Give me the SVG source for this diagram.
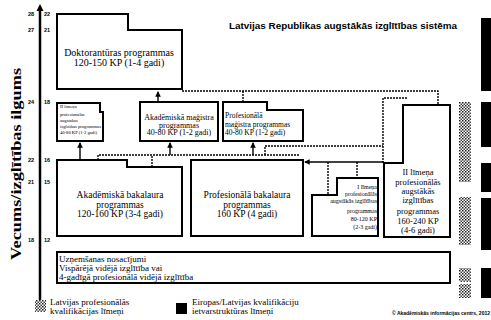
<svg xmlns="http://www.w3.org/2000/svg" width="491" height="320" viewBox="0 0 491 320">
  <style>
    .box { fill: #fff; stroke: #000; stroke-width: 2; }
    .link { fill: none; stroke: #000; stroke-width: 1.4; stroke-dasharray: 2 1; }
    .arrow { fill: none; stroke: #000; stroke-width: 1.4; marker-end: url(#head); }
    .t { font-family: "Liberation Serif", "Times New Roman", serif; fill: #000; }
    .c { text-anchor: middle; }
    .r { text-anchor: end; }
    .ax { font-family: "Liberation Sans", Arial, sans-serif; font-weight: bold; font-size: 5.5px; text-anchor: middle; }
  </style>
  <defs>
    <marker id="head" viewBox="0 0 6 6" refX="5" refY="3" markerWidth="4" markerHeight="4" orient="auto">
      <path d="M0,0 L6,3 L0,6 Z" fill="#000"/>
    </marker>
    <pattern id="hatch" width="3" height="3" patternUnits="userSpaceOnUse">
      <rect width="3" height="3" fill="#fff"/>
      <rect width="1.5" height="1.5" fill="#222"/>
      <rect x="1.5" y="1.5" width="1.5" height="1.5" fill="#444"/>
    </pattern>
  </defs>
  <rect width="491" height="320" fill="#fff"/>

  <!-- title -->
  <text x="229" y="29" font-family="Liberation Sans, Arial, sans-serif" font-weight="bold" font-size="9" textLength="228" lengthAdjust="spacingAndGlyphs">Latvijas Republikas augstākās izglītības sistēma</text>

  <!-- vertical axis: age / years of study -->
  <g id="axis">
    <line x1="40" y1="9" x2="40" y2="302" stroke="#000" stroke-width="2.5"/>
    <path d="M36.5,11 L40,4 L43.5,11 Z" fill="#000"/>
    <text class="ax" x="31" y="16">28</text><text class="ax" x="47" y="16">22</text>
    <text class="ax" x="31" y="32">27</text><text class="ax" x="47" y="32">21</text>
    <text class="ax" x="31" y="104">24</text><text class="ax" x="47" y="104">18</text>
    <text class="ax" x="31" y="162">22</text><text class="ax" x="47" y="162">16</text>
    <text class="ax" x="31" y="184">21</text><text class="ax" x="47" y="184">15</text>
    <text class="ax" x="31" y="242">18</text><text class="ax" x="47" y="242">12</text>
    <text class="t" transform="translate(21,164) rotate(-90)" text-anchor="middle" font-size="14" font-weight="bold" textLength="192" lengthAdjust="spacingAndGlyphs">Vecums/izglītības ilgums</text>
  </g>

  <!-- connectors -->
  <g id="connectors">
    <path class="link" d="M182,91 H438 V105"/>
    <path class="link" d="M243,91 V102"/>
    <path class="arrow" d="M158,102 V92"/>
    <path class="arrow" d="M80,160 V143"/>
    <path class="link" d="M98,160 V155 H300"/>
    <path class="link" d="M152,167 V155"/>
    <path class="arrow" d="M170,155 V143"/>
    <path class="arrow" d="M253,155 V143"/>
    <path class="link" d="M265,155 V146 H383"/>
    <path class="link" d="M383,163 V98 H408"/>
    <path class="arrow" d="M384,162 H305"/>
    <path class="link" d="M328,162 V195"/>
    <path class="link" d="M357,162 V178"/>
  </g>

  <!-- doctoral studies -->
  <g id="doktorantura">
    <path class="box" d="M57,14 H128 V30 H182 V89 H57 Z"/>
    <text class="t c" x="119" y="56" font-size="10">Doktorantūras programmas</text>
    <text class="t c" x="119" y="66" font-size="10">120-150 KP (1-4 gadi)</text>
  </g>

  <!-- second-level professional, short -->
  <g id="prof-2-limenis-isa">
    <path class="box" d="M57,103 H100 V112 H103 V141 H57 Z"/>
    <g class="t" font-size="4.6">
      <text x="60" y="108">II līmeņa</text>
      <text x="60" y="116">profesionālās</text>
      <text x="60" y="121.5">augstākās</text>
      <text x="60" y="128">izglītības programmas</text>
      <text x="60" y="134">40-80 KP (1-2 gadi)</text>
    </g>
  </g>

  <!-- academic master -->
  <g id="akad-magistrs">
    <rect class="box" x="140" y="102" width="78" height="39"/>
    <text class="t c" x="179" y="120" font-size="8">Akadēmiskā maģistra</text>
    <text class="t c" x="179" y="127.5" font-size="8">programmas</text>
    <text class="t c" x="179" y="135" font-size="8">40-80 KP (1-2 gadi)</text>
  </g>

  <!-- professional master -->
  <g id="prof-magistrs">
    <path class="box" d="M223,102 H267 V110 H303 V141 H223 Z"/>
    <text class="t" x="225" y="118" font-size="7.5">Profesionālā</text>
    <text class="t" x="225" y="127" font-size="7.5">maģistra programmas</text>
    <text class="t" x="225" y="135" font-size="7.5">40-80 KP (1-2 gadi)</text>
  </g>

  <!-- academic bachelor -->
  <g id="akad-bakalaurs">
    <path class="box" d="M57,160 H127 V167 H182 V236 H57 Z"/>
    <text class="t c" x="120" y="198" font-size="9.5">Akadēmiskā bakalaura</text>
    <text class="t c" x="120" y="208" font-size="9.5">programmas</text>
    <text class="t c" x="120" y="217" font-size="9.5">120-160 KP (3-4 gadi)</text>
  </g>

  <!-- professional bachelor -->
  <g id="prof-bakalaurs">
    <rect class="box" x="191" y="160" width="112" height="76"/>
    <text class="t c" x="247" y="198" font-size="9.5">Profesionālā bakalaura</text>
    <text class="t c" x="247" y="208" font-size="9.5">programmas</text>
    <text class="t c" x="247" y="217" font-size="9.5">160 KP (4 gadi)</text>
  </g>

  <!-- first-level professional -->
  <g id="prof-1-limenis">
    <path class="box" d="M312,236 V195 H337 V178 H378 V236 Z"/>
    <g class="t r" font-size="6">
      <text x="377" y="189">I līmeņa</text>
      <text x="377" y="196">profesionālās</text>
      <text x="377" y="203">augstākās izglītības</text>
      <text x="377" y="213">programmas</text>
      <text x="377" y="221">80-120 KP</text>
      <text x="377" y="229">(2-3 gadi)</text>
    </g>
  </g>

  <!-- second-level professional, long -->
  <g id="prof-2-limenis">
    <path class="box" d="M384,237 V163 H403 V105 H450 V237 Z"/>
    <g class="t c" font-size="8.5">
      <text x="418" y="175">II līmeņa</text>
      <text x="418" y="185">profesionālās</text>
      <text x="418" y="194">augstākās</text>
      <text x="418" y="203">izglītības</text>
      <text x="418" y="214">programmas</text>
      <text x="418" y="224">160-240 KP</text>
      <text x="418" y="233">(4-6 gadi)</text>
    </g>
  </g>

  <!-- admission requirements -->
  <g id="uznemsana">
    <rect class="box" x="57" y="252" width="393" height="31"/>
    <text class="t" x="59" y="262" font-size="9">Uzņemšanas nosacījumi</text>
    <text class="t" x="59" y="271" font-size="9">Vispārējā vidējā izglītība vai</text>
    <text class="t" x="59" y="280" font-size="9">4-gadīgā profesionālā vidējā izglītība</text>
  </g>

  <!-- qualification level bars -->
  <g id="limeni">
    <rect x="481" y="18" width="10" height="73" fill="#000"/>
    <rect x="481" y="102" width="10" height="45" fill="#000"/>
    <rect x="481" y="163" width="10" height="29" fill="#000"/>
    <rect x="481" y="198" width="10" height="52" fill="#000"/>
    <rect x="481" y="268" width="10" height="30" fill="#000"/>
    <rect x="459" y="102" width="12" height="80" fill="url(#hatch)"/>
    <rect x="459" y="197" width="12" height="48" fill="url(#hatch)"/>
    <rect x="459" y="268" width="12" height="14" fill="url(#hatch)"/>
    <rect x="459" y="284" width="12" height="14" fill="url(#hatch)"/>
  </g>

  <!-- legend -->
  <g id="legend">
    <rect x="35" y="300" width="11" height="12" fill="url(#hatch)"/>
    <text class="t" x="50" y="305" font-size="9">Latvijas profesionālās</text>
    <text class="t" x="50" y="314" font-size="9">kvalifikācijas līmeņi</text>
    <rect x="176" y="303" width="11" height="11" fill="#000"/>
    <text class="t" x="192" y="305" font-size="9">Eiropas/Latvijas kvalifikāciju</text>
    <text class="t" x="192" y="314" font-size="9">ietvarstruktūras līmeņi</text>
  </g>

  <text x="392" y="315" font-family="Liberation Sans, Arial, sans-serif" font-weight="bold" font-size="5">© Akadēmiskās informācijas centrs, 2012</text>
</svg>
